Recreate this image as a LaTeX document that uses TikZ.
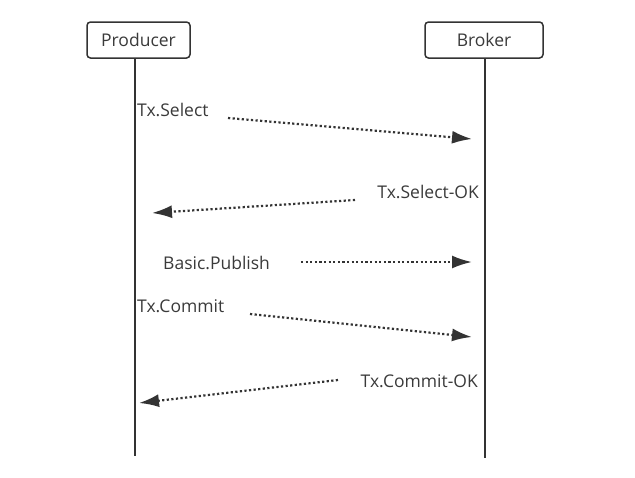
\documentclass[tikz,border=0pt]{standalone}
\usepackage{fontspec}
\setmainfont{Open Sans}
\usetikzlibrary{arrows.meta}
\definecolor{ink}{HTML}{333333}
\definecolor{txt}{HTML}{3A3A3A}
\begin{document}
\begin{tikzpicture}[x=1pt,y=-1pt,
  actor/.style={draw=ink,line width=1.5pt,rounded corners=3.5pt,minimum width=#1,minimum height=36pt,inner sep=0pt,font=\fontsize{17.5}{20}\selectfont,text=txt},
  life/.style={draw=ink,line width=2pt},
  msg/.style={draw=ink,line width=2.2pt,dash pattern=on 2.2pt off 2.4pt,-{Latex[length=20pt,width=13pt]}},
  lbl/.style={font=\fontsize{17.5}{20}\selectfont,text=txt,inner sep=0pt}]
\useasboundingbox (0,0) rectangle (635,477);
\node[actor=103pt] (prod) at (138.5,40) {Producer};
\node[actor=118pt] (brok) at (484,40) {Broker};
\coordinate (pend) at (135,456);
\coordinate (bend) at (485,458);
\draw[life] (prod.south -| pend) -- (pend);
\draw[life] (brok.south -| bend) -- (bend);
% messages
\node[lbl,anchor=west] (m1) at (137,110) {Tx.Select};
\coordinate (m1s) at (228,118);
\coordinate (m1e) at (472,139);
\draw[msg] (m1s) -- (m1e);
\node[lbl,anchor=east] (m2) at (479,192) {Tx.Select-OK};
\coordinate (m2s) at (355,200);
\coordinate (m2e) at (152,213);
\draw[msg] (m2s) -- (m2e);
\node[lbl,anchor=west] (m3) at (163,263) {Basic.Publish};
\coordinate (m3s) at (301,262);
\coordinate (m3e) at (472,262);
\draw[msg] (m3s) -- (m3e);
\node[lbl,anchor=west] (m4) at (137,306) {Tx.Commit};
\coordinate (m4s) at (250,314);
\coordinate (m4e) at (472,337);
\draw[msg] (m4s) -- (m4e);
\node[lbl,anchor=east] (m5) at (478,381) {Tx.Commit-OK};
\coordinate (m5s) at (338,380);
\coordinate (m5e) at (139,403);
\draw[msg] (m5s) -- (m5e);
\end{tikzpicture}
\end{document}
